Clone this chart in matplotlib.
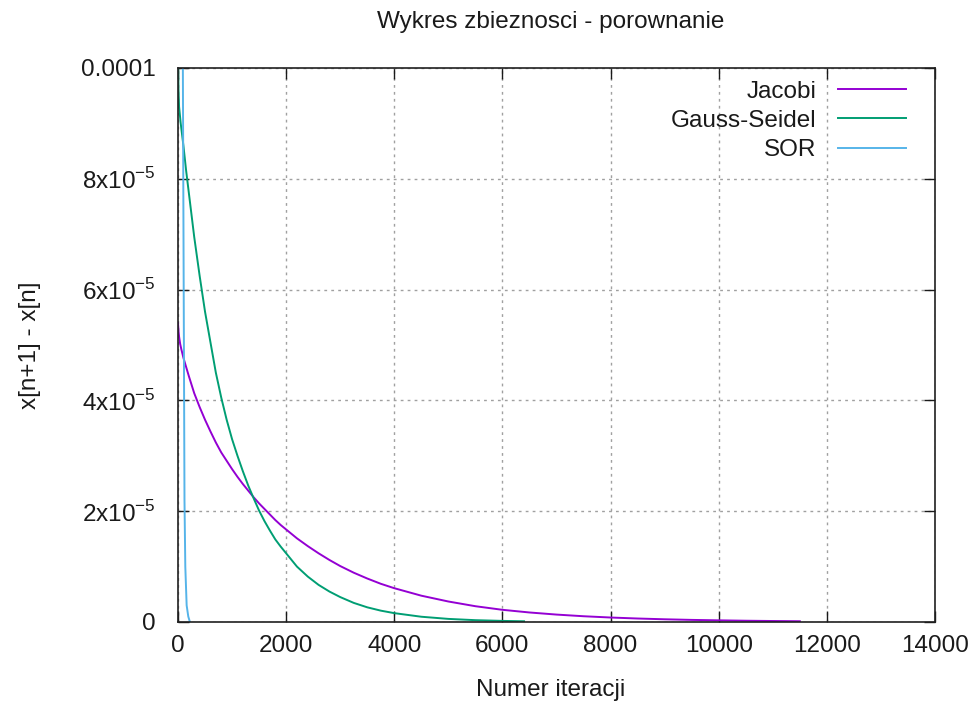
import matplotlib
matplotlib.use("Agg")
import matplotlib.pyplot as plt
from matplotlib.ticker import FixedLocator, FixedFormatter

plt.rcParams['font.family'] = ['Liberation Sans', 'DejaVu Sans']
plt.rcParams['mathtext.fontset'] = 'custom'
plt.rcParams['mathtext.rm'] = 'Liberation Sans'

title = "Wykres zbieznosci - porownanie"
xlabel = "Numer iteracji"
ylabel = "x[n+1] - x[n]"

jacobi_x = [0, 10, 20, 40, 60, 80, 100, 130, 200, 300, 400, 500, 600, 700, 800, 900,
            1000, 1100, 1200, 1300, 1400, 1500, 1600, 1700, 1800, 1900, 2000, 2200,
            2400, 2600, 2800, 3000, 3250, 3500, 3750, 4000, 4500, 5000, 5500, 6000,
            6500, 7000, 7500, 8000, 8500, 9000, 9500, 10000, 10500, 11000, 11500]
jacobi_y = [5.4e-5, 5.25e-5, 5.15e-5, 5.02e-5, 4.93e-5, 4.85e-5, 4.77e-5, 4.67e-5,
            4.44e-5, 4.13e-5, 3.88e-5, 3.65e-5, 3.44e-5, 3.24e-5, 3.06e-5, 2.91e-5,
            2.76e-5, 2.62e-5, 2.49e-5, 2.37e-5, 2.25e-5, 2.14e-5, 2.04e-5, 1.94e-5,
            1.84e-5, 1.75e-5, 1.67e-5, 1.51e-5, 1.37e-5, 1.24e-5, 1.12e-5, 1.01e-5,
            8.9e-6, 7.85e-6, 6.9e-6, 6.1e-6, 4.75e-6, 3.7e-6, 2.85e-6, 2.2e-6,
            1.72e-6, 1.34e-6, 1.04e-6, 8.1e-7, 6.3e-7, 4.9e-7, 3.8e-7, 3.0e-7,
            2.3e-7, 1.8e-7, 1.4e-7]

gs_x = [0, 10, 20, 50, 100, 150, 200, 300, 400, 500, 600, 700, 800, 900, 1000, 1100,
        1200, 1300, 1400, 1500, 1600, 1700, 1800, 1900, 2000, 2200, 2400, 2600, 2800,
        3000, 3250, 3500, 3750, 4000, 4500, 5000, 5500, 6000, 6400]
gs_y = [1.02e-4, 9.6e-5, 9.3e-5, 9.0e-5, 8.6e-5, 8.15e-5, 7.75e-5, 6.95e-5, 6.25e-5,
        5.6e-5, 5.05e-5, 4.5e-5, 4.05e-5, 3.65e-5, 3.3e-5, 3.0e-5, 2.72e-5, 2.46e-5,
        2.23e-5, 2.01e-5, 1.82e-5, 1.65e-5, 1.49e-5, 1.36e-5, 1.24e-5, 1.0e-5,
        8.2e-6, 6.7e-6, 5.5e-6, 4.5e-6, 3.45e-6, 2.65e-6, 2.05e-6, 1.6e-6, 9.5e-7,
        5.6e-7, 3.3e-7, 2.0e-7, 1.3e-7]

sor_x = [60, 90, 120, 135, 160, 190, 220]
sor_y = [1.5e-4, 1.0e-4, 2.2e-5, 1.0e-5, 3e-6, 1e-6, 0.0]

xticks = [0, 2000, 4000, 6000, 8000, 10000, 12000, 14000]
yticks = [0, 2e-5, 4e-5, 6e-5, 8e-5, 1e-4]
ytick_labels = ["0", "2x10$^{\\mathregular{-5}}$", "4x10$^{\\mathregular{-5}}$",
                "6x10$^{\\mathregular{-5}}$", "8x10$^{\\mathregular{-5}}$", "0.0001"]

FS = 17.5
TC = '#1a1a1a'

fig = plt.figure(figsize=(9.71, 7.05), dpi=100)
ax = fig.add_axes([178/971, 1-622/705, (935-178)/971, (622-68)/705])

ax.plot(jacobi_x, jacobi_y, color="#9400d3", lw=1.4, label="Jacobi")
ax.plot(gs_x, gs_y, color="#009e73", lw=1.4, label="Gauss-Seidel")
ax.plot(sor_x, sor_y, color="#56b4e9", lw=1.4, label="SOR")

ax.set_xlim(0, 14000)
ax.set_ylim(0, 1e-4)
ax.xaxis.set_major_locator(FixedLocator(xticks))
ax.xaxis.set_major_formatter(FixedFormatter([str(t) for t in xticks]))
ax.yaxis.set_major_locator(FixedLocator(yticks))
ax.yaxis.set_major_formatter(FixedFormatter(ytick_labels))

ax.tick_params(direction='in', length=8, width=1, top=True, right=True,
               labelsize=FS, colors=TC)
ax.tick_params(axis='y', pad=16)
ax.tick_params(axis='x', pad=9)
for sp in ax.spines.values():
    sp.set_color('#202020')
    sp.set_linewidth(1.2)

ax.grid(True, color='#a0a0a0', linestyle=(0, (2, 3)), linewidth=1)
ax.set_axisbelow(True)

fig.text(551/971, 1-22/705, title, ha='center', va='center', fontsize=FS, color=TC)
fig.text(551/971, 1-690/705, xlabel, ha='center', va='center', fontsize=FS, color=TC)
fig.text(30/971, 1-345/705, ylabel, ha='center', va='center', rotation=90,
         fontsize=FS, color=TC)

leg = ax.legend(loc='upper right', frameon=False, markerfirst=False, fontsize=FS,
                handlelength=2.8, handletextpad=0.9, labelspacing=0.3,
                borderaxespad=0.0, bbox_to_anchor=(0.975, 0.995))
for t in leg.get_texts():
    t.set_color(TC)

fig.savefig("out.png", dpi=100)
